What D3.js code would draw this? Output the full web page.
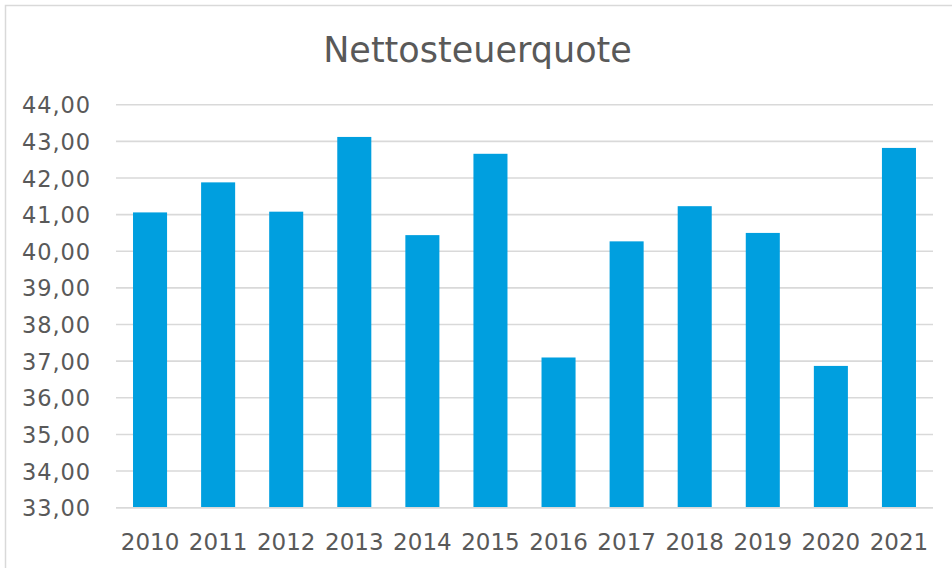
<!DOCTYPE html>
<html><head><meta charset="utf-8">
<script src="https://cdn.jsdelivr.net/npm/d3@7"></script>
<style>
html,body{margin:0;padding:0;background:#fff;}
svg{display:block;}
</style></head>
<body>
<svg id="chart" width="952" height="568"></svg>
<script>
const title = "Nettosteuerquote";
const years = ["2010","2011","2012","2013","2014","2015","2016","2017","2018","2019","2020","2021"];
const values = [41.06, 41.88, 41.08, 43.12, 40.44, 42.66, 37.10, 40.27, 41.23, 40.50, 36.87, 42.82];
const yTicks = [33,34,35,36,37,38,39,40,41,42,43,44];

(function(){
const svg = d3.select("#chart");
const font = "'DejaVu Sans', Verdana, sans-serif";
const textColor = "#595959";

// border
svg.append("rect").attr("x",5.5).attr("y",5.5).attr("width",960).attr("height",580)
  .attr("fill","#fff").attr("stroke","#d9d9d9").attr("stroke-width",1.5);

const pLeft = 116, pRight = 933, pTop = 104.7, pBottom = 507.7;
const x = d3.scaleBand().domain(years).range([pLeft,pRight]).paddingInner(0.5).paddingOuter(0.25);
const y = d3.scaleLinear().domain([33,44]).range([pBottom, pTop]);

// gridlines
svg.append("g").selectAll("line").data(yTicks).join("line")
  .attr("x1",pLeft).attr("x2",pRight)
  .attr("y1",d=>y(d)).attr("y2",d=>y(d))
  .attr("stroke","#d9d9d9").attr("stroke-width",1.6);

// bars
svg.append("g").selectAll("rect").data(values).join("rect")
  .attr("x",(d,i)=>x(years[i]))
  .attr("width",x.bandwidth())
  .attr("y",d=>y(d))
  .attr("height",d=>y(33)-y(d))
  .attr("fill","#009FDF");

// bottom axis line
svg.append("line").attr("x1",pLeft).attr("x2",pRight).attr("y1",y(33)).attr("y2",y(33))
  .attr("stroke","#d9d9d9").attr("stroke-width",1.6);

// y axis
const yAxis = d3.axisLeft(y).tickValues(yTicks).tickSize(0).tickPadding(0)
  .tickFormat(d=>d3.format(".2f")(d).replace(".",","));
const gy = svg.append("g").attr("transform","translate(91,0)").call(yAxis);
gy.select(".domain").remove();
gy.selectAll("text").attr("font-family",font).attr("font-size",22.5).attr("fill",textColor)
  .attr("letter-spacing","0.9px").attr("dy","0.36em");

// x axis
const xAxis = d3.axisBottom(x).tickSize(0).tickPadding(0);
const gx = svg.append("g").attr("transform",`translate(0,${pBottom})`).call(xAxis);
gx.select(".domain").remove();
gx.selectAll("text").attr("font-family",font).attr("font-size",23).attr("fill",textColor)
  .attr("dy",null).attr("y",42);

// title
svg.append("text").attr("x",477.5).attr("y",62).attr("text-anchor","middle")
  .attr("font-family",font).attr("font-size",35).attr("fill",textColor)
  .text(title);
})();
</script>
</body></html>
